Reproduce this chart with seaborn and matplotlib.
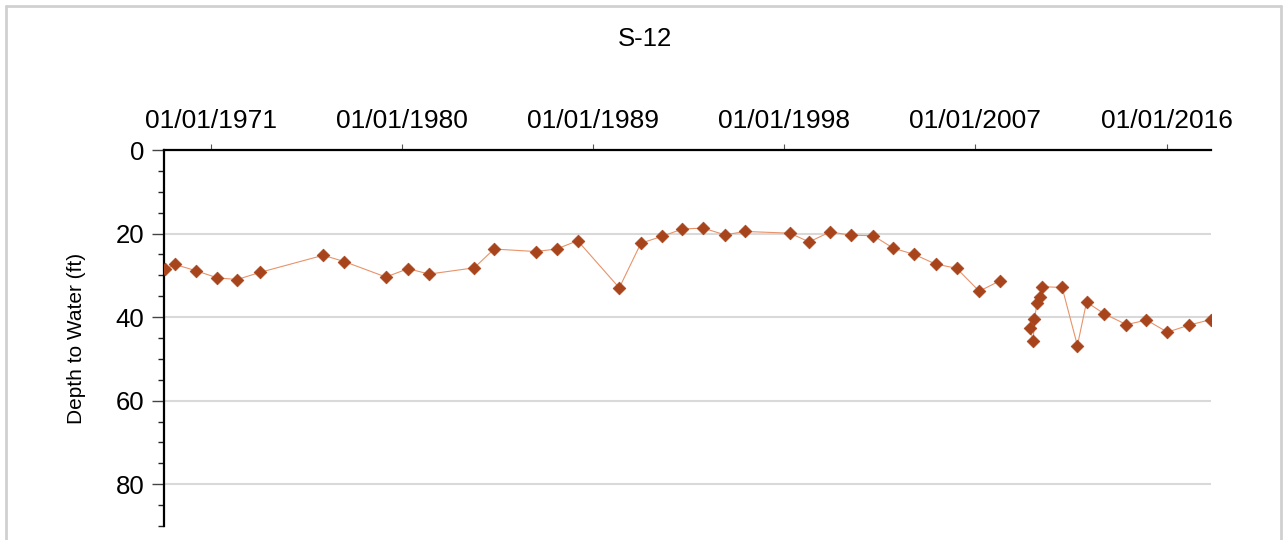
import matplotlib

matplotlib.use("Agg")
import matplotlib.dates as mdates
import matplotlib.pyplot as plt
import pandas as pd
import seaborn as sns
from matplotlib.lines import Line2D
from matplotlib.ticker import MultipleLocator

# --------------------------------------------------------------------------- #
# Data
# --------------------------------------------------------------------------- #
TITLE = "S-12"
Y_LABEL = "Depth to Water (ft)"

dates = [
    "1968-11-03", "1969-04-23", "1970-04-20", "1971-04-20", "1972-03-28",
    "1973-04-20", "1976-04-15", "1977-04-12", "1979-03-28", "1980-04-15",
    "1981-04-08", "1983-05-26", "1984-05-01", "1986-04-15", "1987-04-12",
    "1988-04-08", "1990-03-25", "1991-04-01", "1992-03-22", "1993-03-15",
    "1994-03-08", "1995-03-15", "1996-03-01", "1998-04-05", "1999-03-04",
    "2000-02-25", "2001-02-20", "2002-03-10", "2003-02-17", "2004-02-14",
    "2005-02-14", "2006-02-10", "2007-03-07", "2008-02-25",
    "2009-07-24", "2009-09-20", "2009-10-12", "2009-11-25", "2010-01-12",
    "2010-02-10", "2011-01-30", "2011-10-20", "2012-03-25", "2013-01-23",
    "2014-02-10", "2015-01-20", "2016-01-15", "2017-01-23", "2018-01-27",
]
depth_ft = [
    28.6, 27.4, 28.9, 30.6, 31.0,
    29.3, 25.2, 26.7, 30.4, 28.4,
    29.7, 28.2, 23.7, 24.3, 23.7,
    21.7, 33.0, 22.3, 20.7, 18.9,
    18.7, 20.3, 19.5, 19.9, 22.0,
    19.6, 20.4, 20.5, 23.5, 25.0,
    27.3, 28.3, 33.8, 31.3,
    42.6, 45.6, 40.4, 36.6, 35.2,
    32.7, 32.9, 46.8, 36.4, 39.2,
    41.8, 40.7, 43.6, 41.9, 40.6,
]
# the line is broken between early 2008 and mid 2009
segment = [1] * 34 + [2] * 15

tick_dates = ["1971-01-01", "1980-01-01", "1989-01-01",
              "1998-01-01", "2007-01-01", "2016-01-01"]
x_range = ["1968-10-15", "2018-02-03"]
y_range = [90, 0]

df = pd.DataFrame({
    "date": pd.to_datetime(dates),
    "depth": depth_ft,
    "segment": segment,
})

# --------------------------------------------------------------------------- #
# Plot
# --------------------------------------------------------------------------- #
sns.set_style("white")
plt.rcParams["font.family"] = ["Liberation Sans", "DejaVu Sans"]
plt.rcParams["text.color"] = "black"
plt.rcParams["axes.labelcolor"] = "black"
plt.rcParams["xtick.labelcolor"] = "black"
plt.rcParams["ytick.labelcolor"] = "black"

fig = plt.figure(figsize=(12.83, 5.40), dpi=100)
ax = fig.add_axes([0.1278, 0.0259, 0.8161, 0.6963])

sns.lineplot(data=df, x="date", y="depth", units="segment", estimator=None,
             color="#e8936a", linewidth=0.8, ax=ax, legend=False)
sns.scatterplot(data=df, x="date", y="depth", marker="D", s=42,
                color="#a8441c", edgecolor="#a8441c", linewidth=0.5,
                ax=ax, legend=False, zorder=3)

ax.set_xlim(pd.to_datetime(x_range))
ax.set_ylim(y_range)

# x axis lives on top
ax.xaxis.tick_top()
ax.set_xticks(pd.to_datetime(tick_dates))
ax.xaxis.set_major_formatter(mdates.DateFormatter("%m/%d/%Y"))
ax.tick_params(axis="x", which="major", direction="out", length=4, width=0.8,
               color="#555555", labelsize=19, pad=8, top=True, bottom=False)

ax.yaxis.set_major_locator(MultipleLocator(20))
ax.yaxis.set_minor_locator(MultipleLocator(5))
ax.tick_params(axis="y", which="major", direction="out", length=9, width=1.0,
               color="#444444", labelsize=18.5, pad=5, left=True)
ax.tick_params(axis="y", which="minor", direction="out", length=4, width=1.0,
               color="#222222", left=True)

ax.set_xlabel("")
ax.set_ylabel(Y_LABEL, fontsize=15)
ax.yaxis.set_label_coords(-0.074, 0.5)

ax.grid(axis="y", which="major", color="#d9d9d9", linewidth=1.5)
ax.grid(axis="x", visible=False)

for side in ("right", "bottom"):
    ax.spines[side].set_visible(False)
for side in ("left", "top"):
    ax.spines[side].set_color("black")
    ax.spines[side].set_linewidth(1.6)

fig.text(0.503, 1 - 39 / 540, TITLE, ha="center", va="center", fontsize=18.5)

# light grey frame round the picture (open at the bottom)
frame = dict(color="#d0d0d0", linewidth=2.0, transform=fig.transFigure)
fig.add_artist(Line2D([6 / 1283, 6 / 1283], [0, 1 - 6 / 540], **frame))
fig.add_artist(Line2D([6 / 1283, 1281 / 1283], [1 - 6 / 540, 1 - 6 / 540], **frame))
fig.add_artist(Line2D([1281 / 1283, 1281 / 1283], [0, 1 - 6 / 540], **frame))

fig.savefig("out.png", dpi=100)
